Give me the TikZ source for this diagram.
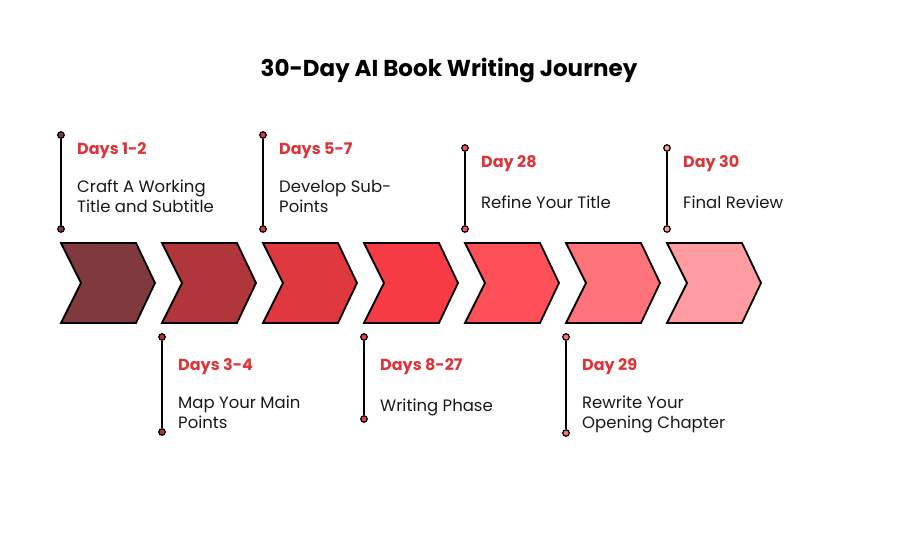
\documentclass[tikz,border=0pt]{standalone}
\usepackage{fontspec}
\setmainfont{Poppins}
\begin{document}
\begin{tikzpicture}[x=1pt,y=-1pt,
  chev/.style={draw=black,line width=1.8pt,line join=miter},
  dotn/.style={circle,draw=black,line width=1.2pt,inner sep=0pt,minimum size=6.5pt},
  stem/.style={line width=2pt,black},
  lbl/.style={anchor=west,font=\fontsize{16}{18}\selectfont\bfseries,text=labred,inner sep=0pt},
  desc/.style={anchor=north west,font=\fontsize{16.5}{20}\selectfont,align=left,inner sep=0pt,text=black!90}]
\definecolor{labred}{HTML}{DC3439}
\definecolor{k1}{HTML}{803A3F}
\definecolor{k2}{HTML}{B0363B}
\definecolor{k3}{HTML}{DF383E}
\definecolor{k4}{HTML}{F73B45}
\definecolor{k5}{HTML}{FF5058}
\definecolor{k6}{HTML}{FF737A}
\definecolor{k7}{HTML}{FF9CA2}
\useasboundingbox (0,0) rectangle (898,540);
\node[font=\fontsize{23}{26}\selectfont\bfseries] (title) at (449,70) {30-Day AI Book Writing Journey};
% chevrons
\foreach \i/\c in {0/k1,1/k2,2/k3,3/k4,4/k5,5/k6,6/k7}{
  \pgfmathsetmacro{\xx}{61+101*\i}
  \draw[chev,fill=\c] (\xx,243) -- ++(75,0) -- ++(19,40) -- ++(-19,40) -- ++(-75,0) -- ++(20,-40) -- cycle;
}
% top stems
\node[dotn,fill=k1] (t1a) at (61,135) {};
\node[dotn,fill=k1] (t1b) at (61,229) {};
\node[dotn,fill=k3] (t3a) at (263,135) {};
\node[dotn,fill=k3] (t3b) at (263,229) {};
\node[dotn,fill=k5] (t5a) at (465,148) {};
\node[dotn,fill=k5] (t5b) at (465,229) {};
\node[dotn,fill=k7] (t7a) at (667,148) {};
\node[dotn,fill=k7] (t7b) at (667,229) {};
% bottom stems
\node[dotn,fill=k2] (b2a) at (162,337) {};
\node[dotn,fill=k2] (b2b) at (162,432) {};
\node[dotn,fill=k4] (b4a) at (364,337) {};
\node[dotn,fill=k4] (b4b) at (364,419) {};
\node[dotn,fill=k6] (b6a) at (566,337) {};
\node[dotn,fill=k6] (b6b) at (566,433) {};
\foreach \a/\b in {t1a/t1b,t3a/t3b,t5a/t5b,t7a/t7b,b2a/b2b,b4a/b4b,b6a/b6b}
  \draw[stem] (\a) -- (\b);
% labels
\node[lbl] (l1) at (77,151) {Days 1-2};
\node[desc] (d1) at (77,180) {Craft A Working\\Title and Subtitle};
\node[lbl] (l3) at (279,151) {Days 5-7};
\node[desc] (d3) at (279,180) {Develop Sub-\\Points};
\node[lbl] (l5) at (481,164) {Day 28};
\node[desc] (d5) at (481,196) {Refine Your Title};
\node[lbl] (l7) at (683,164) {Day 30};
\node[desc] (d7) at (683,196) {Final Review};
\node[lbl] (l2) at (178,367) {Days 3-4};
\node[desc] (d2) at (178,396) {Map Your Main\\Points};
\node[lbl] (l4) at (380,367) {Days 8-27};
\node[desc] (d4) at (380,399) {Writing Phase};
\node[lbl] (l6) at (582,367) {Day 29};
\node[desc] (d6) at (582,396) {Rewrite Your\\Opening Chapter};
\end{tikzpicture}
\end{document}
